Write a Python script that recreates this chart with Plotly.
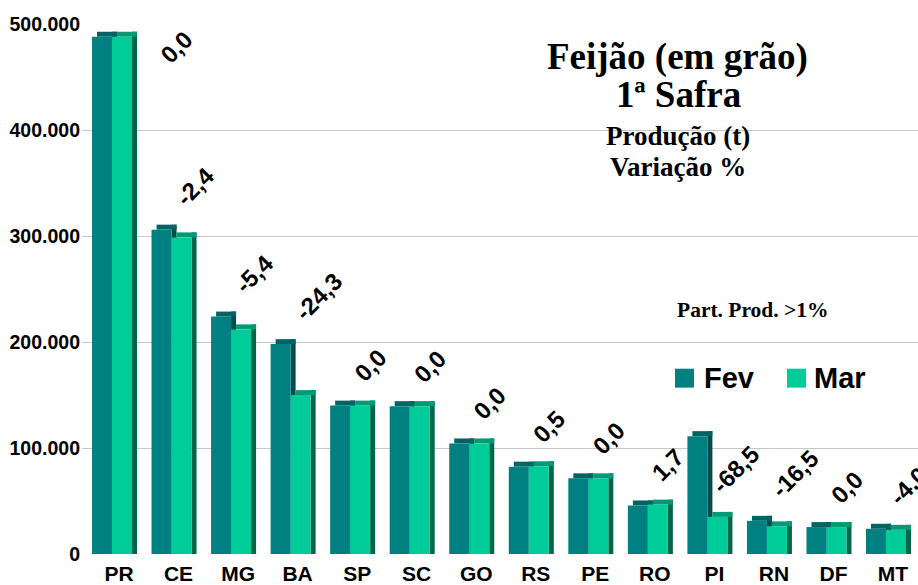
import plotly.graph_objects as go

# ---------------- data ----------------
estados = ["PR", "CE", "MG", "BA", "SP", "SC", "GO", "RS", "PE", "RO", "PI", "RN", "DF", "MT"]
producao_fev = [488000, 306000, 224000, 198000, 140000, 139500, 104300, 82400, 71400, 45800, 111200, 31300, 25400, 23800]
producao_mar = [488000, 298700, 211900, 149900, 140000, 139500, 104300, 82800, 71400, 46600, 35000, 26100, 25400, 22800]
variacao = [0.0, -2.4, -5.4, -24.3, 0.0, 0.0, 0.0, 0.5, 0.0, 1.7, -68.5, -16.5, 0.0, -4.0]
y_ticks = [0, 100000, 200000, 300000, 400000, 500000]

# ---------------- geometry / style ----------------
W, H = 918, 585
L, R, T, B = 82, 918, 24, 556          # plot area in pixels
PX_PER_CAT = 59.54
Y_MAX = 500000
PX_PER_UNIT_Y = (B - T) / Y_MAX

bar_w = 20 / PX_PER_CAT                # front face width (category units)
side_w = 5 / PX_PER_CAT                # depth width
depth_y = 5 / PX_PER_UNIT_Y            # depth height (data units)

C_FEV, C_FEV_SIDE, C_FEV_TOP = "#008080", "#004C4C", "#006464"
C_MAR, C_MAR_SIDE, C_MAR_TOP = "#00CC99", "#006648", "#009A74"

SANS = "Liberation Sans, Arial, sans-serif"
SERIF = "Liberation Serif, Times New Roman, serif"

x0_range = -(112 - L) / PX_PER_CAT
x1_range = x0_range + (R - L) / PX_PER_CAT

fig = go.Figure()


def add_3d_bars(values, offset, c_front, c_side, c_top, name):
    fig.add_trace(go.Bar(x=estados, y=[v + depth_y for v in values], base=0,
                         offset=offset + bar_w, width=side_w,
                         marker=dict(color=c_side, line=dict(width=0)),
                         showlegend=False, hoverinfo="skip"))
    fig.add_trace(go.Bar(x=estados, y=[depth_y] * len(values), base=values,
                         offset=offset + side_w, width=bar_w,
                         marker=dict(color=c_top, line=dict(width=0)),
                         showlegend=False, hoverinfo="skip"))
    fig.add_trace(go.Bar(x=estados, y=values, base=0, offset=offset, width=bar_w,
                         marker=dict(color=c_front, line=dict(width=0)),
                         name=name, showlegend=False))


add_3d_bars(producao_fev, -bar_w, C_FEV, C_FEV_SIDE, C_FEV_TOP, "Fev")
add_3d_bars(producao_mar, 0.0, C_MAR, C_MAR_SIDE, C_MAR_TOP, "Mar")


def px_to_paper(px, py):
    return (px - L) / (R - L), (B - py) / (B - T)


annotations = []
# variation labels
cap = 440000
for est, f, m, v in zip(estados, producao_fev, producao_mar, variacao):
    anchor = m if v < -50 else max(f, m)
    xs = 0
    if anchor > cap:
        anchor = cap
        xs = 44
    txt = f"{v:.1f}".replace(".", ",")
    annotations.append(dict(x=est, y=anchor, xref="x", yref="y", text=txt,
                            showarrow=False, textangle=-45,
                            xanchor="left", yanchor="bottom",
                            xshift=xs - 4, yshift=16,
                            font=dict(family=SANS, size=24, color="black", weight="bold")))

# titles
for text, px, py, size in [("Feijão (em grão)", 677, 57, 37),
                           ("1ª Safra", 678, 95, 37),
                           ("Produção (t)", 678, 136, 27),
                           ("Variação %", 678, 168, 27),
                           ("Part. Prod. >1%", 753, 311, 21.5)]:
    xp, yp = px_to_paper(px, py)
    annotations.append(dict(x=xp, y=yp, xref="paper", yref="paper", text=text,
                            showarrow=False, xanchor="center", yanchor="middle",
                            font=dict(family=SERIF, size=size, color="black", weight="bold")))

# manual legend
shapes = []
for name, color, sx, tx in [("Fev", C_FEV, 675, 702), ("Mar", C_MAR, 787, 812)]:
    a0, b0 = px_to_paper(sx, 389)
    a1, b1 = px_to_paper(sx + 19, 370)
    shapes.append(dict(type="rect", xref="paper", yref="paper", x0=a0, y0=b0, x1=a1, y1=b1,
                       fillcolor=color, line=dict(width=0)))
    xp, yp = px_to_paper(tx, 379)
    annotations.append(dict(x=xp, y=yp, xref="paper", yref="paper", text=name,
                            showarrow=False, xanchor="left", yanchor="middle",
                            font=dict(family=SANS, size=29, color="black", weight="bold")))

fig.update_layout(
    width=W, height=H,
    margin=dict(l=L, r=W - R, t=T, b=H - B),
    paper_bgcolor="white", plot_bgcolor="white",
    barmode="overlay",
    separators=",.",
    showlegend=False,
    annotations=annotations,
    shapes=shapes,
    xaxis=dict(type="category", range=[x0_range, x1_range], showgrid=False,
               showline=False, ticks="", ticklabelshift=7, ticklabelstandoff=5,
               tickfont=dict(family=SANS, size=21, color="black", weight="bold")),
    yaxis=dict(range=[0, Y_MAX], tickvals=y_ticks, tickformat=",.0f",
               showgrid=True, gridcolor="#C8C8C8", gridwidth=1,
               zeroline=False, showline=False, ticks="", ticklabelstandoff=1,
               tickfont=dict(family=SANS, size=19.5, color="black", weight="bold")),
)

fig.write_html("out.html",
               config={"displayModeBar": False},
               post_script="document.body.style.margin='0';document.body.style.overflow='hidden';")
